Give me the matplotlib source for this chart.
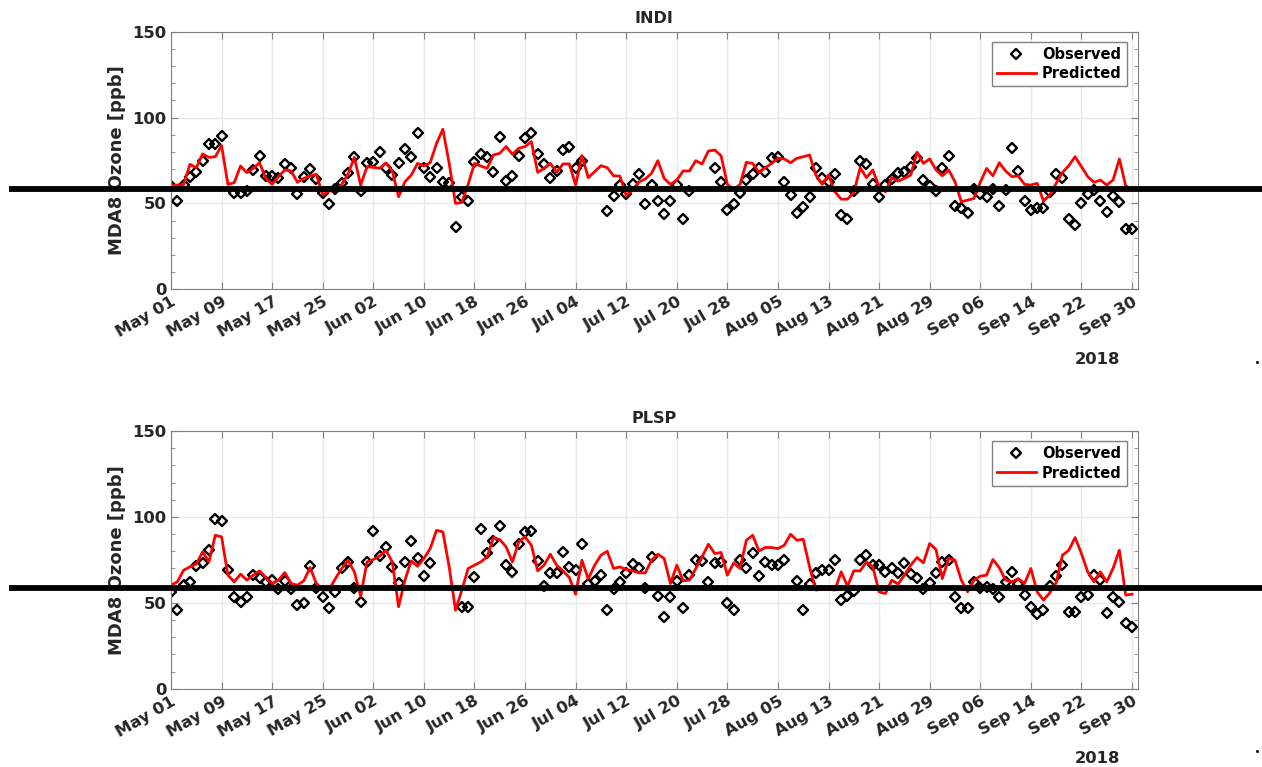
import numpy as np
import pandas as pd
import matplotlib
matplotlib.use('Agg')
import matplotlib.pyplot as plt
import matplotlib.dates as mdates
from matplotlib.lines import Line2D
from matplotlib.markers import MarkerStyle
from matplotlib.ticker import MultipleLocator

nan = np.nan

# daily MDA8 ozone, 1 May - 30 Sep 2018
days = pd.date_range('2018-05-01', '2018-09-30', freq='D')

indi_obs = [
    60.3, 51.6, 61.0, 65.6, 68.5, 74.7, 84.8, 84.6, 89.1, nan,
    56.2, 55.8, 57.4, 69.6, 77.8, 66.0, 66.0, 64.6, 72.8, 70.8,
    55.3, 65.2, 70.0, 64.0, 55.8, 49.6, 58.4, 61.7, 67.5, 77.2,
    57.2, 73.7, 74.3, 79.8, 70.4, 66.5, 73.3, 81.5, 76.8, 90.9,
    70.8, 65.6, 70.8, 62.3, 62.1, 36.4, 53.9, 51.4, 73.9, 78.6,
    76.8, 68.5, 88.9, 63.2, 66.0, 77.6, 87.9, 90.9, 78.6, 72.8,
    65.0, 68.9, 81.1, 83.1, 70.4, 74.7, nan, nan, nan, 45.5,
    54.5, 60.7, 55.3, 61.1, 66.9, 49.6, 60.7, 51.6, 43.6, 51.4,
    60.7, 40.7, 57.4, nan, nan, nan, 70.8, 62.6, 46.1, 49.6,
    55.8, 63.6, 66.9, 70.4, 68.5, 76.3, 77.2, 62.6, 54.9, 44.7,
    47.7, 53.9, 70.8, 65.0, 62.3, 66.9, 43.2, 40.7, 57.4, 74.9,
    73.0, 61.1, 53.9, 60.7, 64.0, 67.5, 68.5, 71.0, 76.3, 63.6,
    60.3, 57.4, 70.4, 77.8, 48.6, 47.1, 44.6, 58.4, 55.3, 53.5,
    58.4, 48.4, 57.8, 82.1, 68.9, 51.4, 46.1, 47.5, 47.5, 56.8,
    66.9, 64.6, 40.9, 37.4, 50.4, 55.3, 57.8, 51.4, 45.1, 54.3,
    50.6, 35.4, 35.4,
]
indi_pred = [
    60.3, 60.7, 61.0, 72.8, 70.8, 78.8, 76.8, 77.2, 83.7, 61.1,
    62.1, 71.8, 67.9, 70.4, 73.7, 64.6, 61.1, 65.6, 69.5, 68.9,
    62.3, 64.6, 66.0, 66.9, 54.9, 57.2, 57.4, 61.1, 67.1, 76.8,
    60.7, 71.4, 71.0, 70.5, 73.5, 68.9, 53.9, 62.6, 66.5, 73.3,
    71.8, 73.7, 85.0, 93.2, 73.3, 50.0, 50.6, 61.1, 73.3, 71.8,
    70.4, 78.2, 79.2, 83.1, 78.6, 82.1, 83.1, 86.0, 68.1, 70.4,
    73.3, 68.1, 73.0, 73.0, 60.7, 77.8, 65.0, 68.5, 72.0, 70.8,
    66.1, 65.9, 54.5, 57.8, 62.5, 64.2, 67.5, 74.9, 64.6, 61.1,
    63.6, 68.9, 68.9, 74.9, 73.0, 80.5, 81.1, 77.8, 61.1, 58.0,
    61.1, 73.9, 73.3, 68.1, 70.8, 73.3, 76.3, 75.9, 73.7, 76.3,
    77.2, 78.2, 66.5, 61.1, 66.5, 56.8, 52.5, 52.5, 56.2, 70.8,
    65.0, 69.5, 59.7, 56.8, 65.0, 63.0, 64.6, 66.5, 79.8, 73.3,
    75.9, 69.5, 66.1, 69.5, 62.6, 51.0, 51.9, 52.9, 62.3, 70.4,
    66.1, 73.7, 68.9, 65.6, 66.0, 61.1, 60.7, 61.7, 51.4, 54.9,
    61.7, 68.0, 72.0, 77.2, 71.4, 65.6, 62.3, 63.6, 60.7, 63.6,
    75.9, 60.3, 58.0,
]
plsp_obs = [
    56.4, 45.7, 60.3, 62.2, 71.5, 73.4, 81.0, 99.0, 97.7, 69.0,
    53.5, 50.6, 53.5, 66.1, 64.7, 62.2, 63.2, 58.3, 62.6, 58.3,
    48.6, 49.6, 71.3, 58.9, 53.1, 46.7, 56.4, 70.0, 73.8, 58.9,
    50.6, 73.8, 91.7, 77.1, 82.4, 70.9, 61.6, 73.8, 86.0, 75.8,
    65.5, 72.9, nan, nan, nan, nan, 47.7, 47.7, 65.1, 92.8,
    79.1, 86.0, 94.6, 72.3, 68.0, 84.5, 91.3, 91.7, 74.4, 59.7,
    67.1, 67.6, 79.3, 70.9, 69.0, 84.5, 61.2, 62.8, 66.1, 45.7,
    57.8, 62.2, 67.1, 72.7, 70.0, 58.9, 76.4, 53.9, 41.9, 53.5,
    62.8, 46.7, 66.1, 74.8, 74.4, 62.2, 72.9, 73.8, 50.0, 45.7,
    74.8, 70.5, 79.1, 65.7, 73.8, 71.9, 71.9, 74.8, nan, 62.8,
    45.7, 61.2, 67.1, 69.0, 69.0, 74.8, 51.9, 53.9, 57.0, 74.8,
    77.7, 71.9, 72.3, 68.0, 70.0, 67.4, 73.3, 66.7, 64.7, 57.8,
    61.6, 67.4, 73.8, 75.2, 53.5, 46.7, 46.7, 62.2, 58.5, 59.3,
    57.8, 53.5, 62.2, 68.0, 61.2, 54.5, 47.7, 43.4, 45.7, 59.7,
    65.5, 71.9, 44.8, 44.8, 53.5, 54.5, 66.1, 63.2, 43.8, 53.1,
    50.6, 38.0, 36.0,
]
plsp_pred = [
    60.3, 62.2, 69.0, 70.9, 72.5, 79.7, 73.8, 89.3, 88.4, 66.1,
    62.2, 66.7, 63.2, 66.1, 68.6, 64.7, 61.2, 63.2, 67.6, 61.2,
    60.3, 62.8, 70.5, 61.2, 57.5, 57.5, 64.1, 70.0, 74.8, 68.0,
    53.9, 73.8, 75.2, 77.2, 80.6, 73.8, 47.7, 63.2, 74.4, 71.3,
    75.8, 81.6, 92.2, 91.3, 70.9, 45.7, 57.4, 70.0, 71.9, 73.8,
    76.7, 88.0, 86.8, 82.6, 73.8, 85.5, 88.4, 83.5, 68.6, 71.9,
    78.3, 71.9, 68.6, 64.7, 55.0, 74.8, 63.8, 71.9, 77.7, 80.0,
    70.0, 70.9, 69.4, 68.6, 67.5, 67.4, 74.8, 78.3, 75.8, 61.2,
    71.9, 62.8, 63.2, 70.0, 76.7, 84.1, 78.7, 79.3, 66.1, 73.3,
    70.0, 86.4, 89.3, 80.2, 82.2, 82.2, 81.6, 83.5, 89.9, 86.4,
    87.0, 70.9, 57.4, 58.0, 58.0, 57.4, 68.0, 59.7, 68.6, 68.6,
    73.8, 70.9, 56.4, 55.4, 63.2, 60.9, 66.1, 71.9, 76.4, 73.3,
    84.5, 81.0, 64.1, 75.8, 74.8, 63.2, 56.4, 63.2, 65.5, 66.1,
    75.2, 70.5, 63.2, 62.2, 64.1, 61.2, 70.0, 56.4, 51.6, 55.8,
    61.6, 77.7, 80.6, 88.0, 78.7, 68.0, 62.2, 68.0, 62.2, 70.0,
    80.6, 54.5, 55.0,
]

plt.rcParams['font.family'] = 'DejaVu Sans'
plt.rcParams['font.weight'] = 'bold'
plt.rcParams['axes.titleweight'] = 'bold'
plt.rcParams['axes.labelweight'] = 'bold'

txt = '#262626'
edge = '#808080'

fig = plt.figure(figsize=(12.62, 7.67), dpi=100)

x0 = mdates.date2num(days[0])
obs_marker = MarkerStyle('D', fillstyle='none', joinstyle='round')


def panel(rect, name, obs, pred):
    ax = fig.add_axes(rect)
    ax.plot(days, obs, linestyle='none', marker=obs_marker, ms=4.6,
            mec='k', mew=1.7, label='Observed')
    ax.plot(days, pred, color='red', lw=2.0, label='Predicted')
    ax.set_xlim(x0, x0 + 152.9)
    ax.set_ylim(0, 150)
    ax.set_yticks([0, 50, 100, 150])
    ax.yaxis.set_minor_locator(MultipleLocator(10))
    ax.set_xticks(days[::8])
    ax.xaxis.set_major_formatter(mdates.DateFormatter('%b %d'))
    ax.grid(True, which='major', color='#e8e8e8', lw=1)
    ax.set_axisbelow(True)
    for s in ax.spines.values():
        s.set_color(edge)
    ax.tick_params(which='both', direction='in', top=True, right=True,
                   colors=edge, labelcolor=txt, labelsize=11.8)
    ax.tick_params(which='major', length=5)
    ax.tick_params(which='minor', length=3)
    ax.tick_params(axis='x', which='minor', top=False, bottom=False)
    for lab in ax.get_xticklabels():
        lab.set_rotation(30)
        lab.set_ha('right')
        lab.set_va('top')
        lab.set_rotation_mode('anchor')
    ax.set_ylabel('MDA8 Ozone [ppb]', fontsize=13, color=txt, labelpad=4)
    ax.set_title(name, fontsize=11.5, color=txt, pad=6)
    ax.text(0.9587, -0.271, '2018', transform=ax.transAxes, ha='center',
            va='center', fontsize=11.8, color=txt)
    leg = ax.legend(loc='upper right', bbox_to_anchor=(0.9886, 0.96),
                    borderaxespad=0, fancybox=False, framealpha=1,
                    edgecolor=edge, fontsize=10.5, handlelength=2.7,
                    handletextpad=0.4, labelspacing=0.28, borderpad=0.35)
    for t in leg.get_texts():
        t.set_color('k')
    return ax


panel([0.1355, 0.6228, 0.766, 0.3359], 'INDI', indi_obs, indi_pred)
panel([0.1355, 0.1021, 0.766, 0.3359], 'PLSP', plsp_obs, plsp_pred)

# thick reference lines across the figure
for yf in (0.7536, 0.2338):
    fig.add_artist(Line2D([9 / 1262, 1.0], [yf, yf], transform=fig.transFigure,
                          color='k', lw=4.2, solid_capstyle='butt'))

for yf in (1 - 362 / 767, 1 - 751 / 767):
    fig.add_artist(Line2D([1257 / 1262], [yf], transform=fig.transFigure,
                          marker='s', ms=1, color='k', linestyle='none'))

fig.savefig('out.png', dpi=100, facecolor='white')
